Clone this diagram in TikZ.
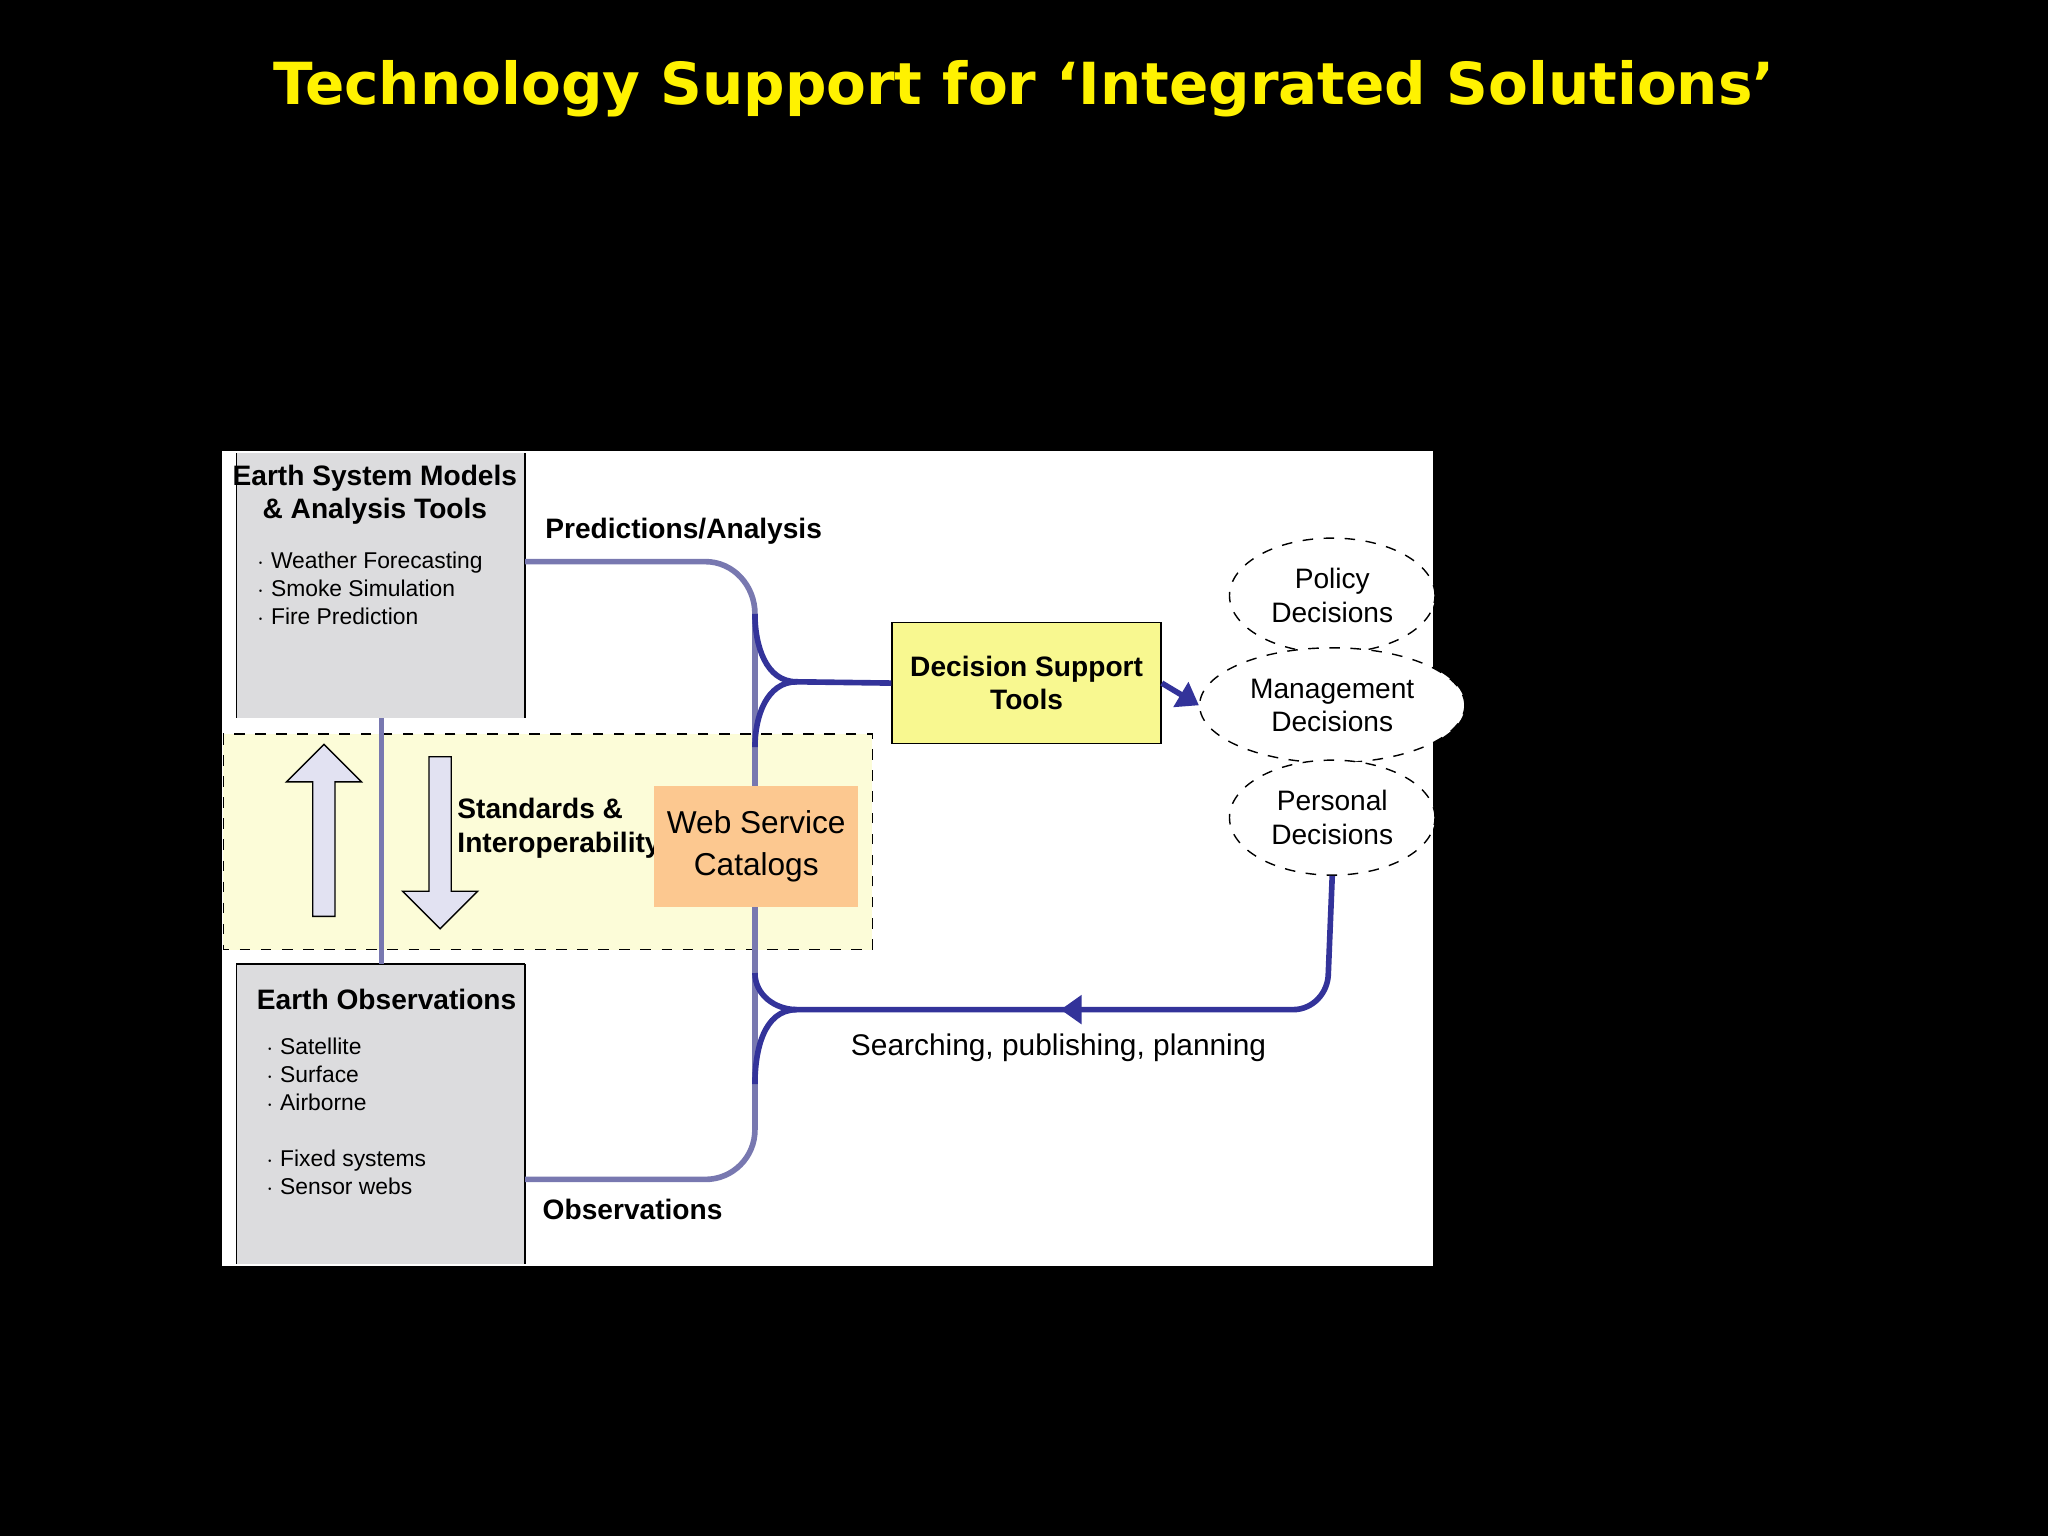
\documentclass[tikz,border=0pt]{standalone}
\usepackage{fontspec}
\setmainfont{Liberation Sans}
\newfontfamily\titlefont{DejaVu Sans}
\usetikzlibrary{arrows.meta,shapes.arrows}
\definecolor{navy}{HTML}{33339A}
\definecolor{slate}{HTML}{7878B0}
\definecolor{grayb}{HTML}{DCDCDE}
\definecolor{paleyel}{HTML}{FCFCD8}
\definecolor{dsyel}{HTML}{F8F890}
\definecolor{orng}{HTML}{FCC890}
\definecolor{arrfill}{HTML}{E2E2F2}
\tikzset{
 lbl/.style={font=\fontsize{8}{9.5}\selectfont\bfseries,align=center,inner sep=0pt},
 lst/.style={font=\fontsize{6.5}{8}\selectfont,align=left,anchor=north west,inner sep=0pt},
 navyl/.style={draw=navy,line width=1.6pt},
 slatel/.style={draw=slate,line width=1.6pt},
 ell/.style={draw,dashed,ellipse,minimum width=1.96cm,minimum height=1.15cm,fill=white,font=\fontsize{8}{9.5}\selectfont,align=center}
}
\usetikzlibrary{shapes.geometric}
\begin{document}
\begin{tikzpicture}[x=0.013061cm,y=-0.013061cm]
\fill[black] (0,0) rectangle (1568,1176);
\useasboundingbox (0,0) rectangle (1568,1176);
\node[text=yellow,font=\titlefont\fontsize{16.5}{18}\selectfont\bfseries] (title) at (784,68) {Technology Support for ‘Integrated Solutions’};
\fill[white] (170,345) rectangle (1097,969);
% dashed region
\draw[dashed,fill=paleyel] (171,562) rectangle (668,727);
% gray boxes
\fill[grayb] (181,347) rectangle (402,550);
\draw (181,347)--(181,550) (402,347)--(402,550);
\fill[grayb] (181,738) rectangle (402,968);
\draw (181,738)--(181,968) (402,738)--(402,968) (181,738)--(402,738);
\node[lbl] (esm) at (287,379) {Earth System Models\\\& Analysis Tools};
\node[lst] (esml) at (196,422) {$\cdot$ Weather Forecasting\\$\cdot$ Smoke Simulation\\$\cdot$ Fire Prediction};
\node[lbl] (eo) at (296,765) {Earth Observations};
\node[lst] (eol) at (203,794) {$\cdot$ Satellite\\$\cdot$ Surface\\$\cdot$ Airborne\\[8pt]$\cdot$ Fixed systems\\$\cdot$ Sensor webs};
% vertical link
\draw[slatel] (292,550)--(292,738);
% arrows
\node[single arrow,draw,fill=arrfill,rotate=90,minimum height=1.72cm,minimum width=0.75cm,single arrow head extend=0.1cm,inner sep=1pt] (up) at (248,640) {};
\node[single arrow,draw,fill=arrfill,rotate=-90,minimum height=1.72cm,minimum width=0.75cm,single arrow head extend=0.1cm,inner sep=1pt] (down) at (337,641) {};
\node[lbl,align=left] (std) at (428,634) {Standards \&\\Interoperability};
% slate lines
\draw[slatel] (402,430)--(540,430) to[out=0,in=90] (578,470) -- (578,830);
\draw[slatel] (402,903)--(540,903) to[out=0,in=-90] (578,865) -- (578,830);
\node[draw=orng,fill=orng,minimum width=1.95cm,minimum height=1.19cm,font=\fontsize{9}{12}\selectfont,align=center] (wsc) at (579,648) {Web Service\\Catalogs};
\node[lbl,anchor=west] (pa) at (417,407) {Predictions/Analysis};
\node[lbl,anchor=west] (ob) at (415,926) {Observations};
% decision support
\node[draw,fill=dsyel,minimum width=2.69cm,minimum height=1.21cm,lbl] (dst) at (786,523) {Decision Support\\Tools};
\coordinate (j1) at (610,522);
\draw[navyl] (578,470) to[out=-90,in=180] (j1) -- (dst.west);
\draw[navyl] (578,572) to[out=90,in=180] (j1);
\node[ell] (pol) at (1020,456) {Policy\\Decisions};
\node[ell] (man) at (1020,540) {Management\\Decisions};
\node[ell] (per) at (1020,626) {Personal\\Decisions};
\draw[navyl,-{Triangle[length=6pt,width=8pt]}] (dst.east)--(man.west);
\coordinate (j2) at (610,773);
\draw[navyl] (per.south) -- (1017,745) to[out=-90,in=0] (990,773) -- (j2);
\draw[navyl] (578,745) to[out=-90,in=180] (j2);
\draw[navyl] (578,830) to[out=90,in=180] (j2);
\draw[navyl,-{Triangle[length=6pt,width=8pt]}] (830,773)--(812,773);
\node[lbl,font=\fontsize{8.5}{10}\selectfont,anchor=west] (spp) at (651,802) {Searching, publishing, planning};
\end{tikzpicture}
\end{document}
